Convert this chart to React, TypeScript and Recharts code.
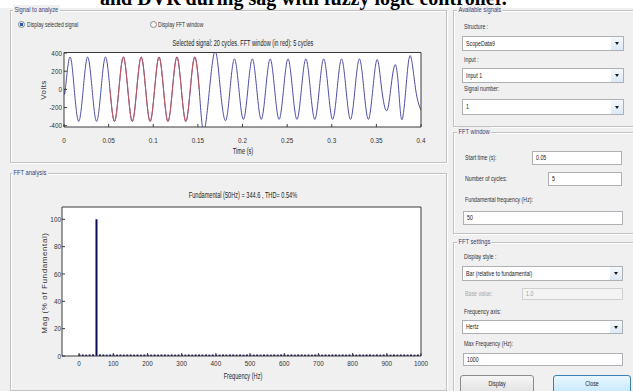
import React from 'react';
import { LineChart, Line, XAxis, YAxis, CartesianGrid, BarChart, Bar } from 'recharts';

const FONT = '"Liberation Sans", Arial, sans-serif';

// ---- Selected signal (time in s, voltage in V), read at zero crossings and peaks ----
const timeS = [
  0, 0.0015, 0.0065, 0.0115, 0.0165, 0.0215, 0.0265, 0.0315, 0.0365, 0.0415, 0.0465,
  0.0515, 0.0565, 0.0615, 0.0665, 0.0715, 0.0765, 0.0815, 0.0865, 0.0915, 0.0965,
  0.1015, 0.1065, 0.1115, 0.1165, 0.1215, 0.1265, 0.1315, 0.1365, 0.1415, 0.1465, 0.1515,
  0.1565, 0.163, 0.1695, 0.1752, 0.181, 0.186, 0.191, 0.196, 0.201, 0.206, 0.211, 0.216,
  0.221, 0.226, 0.231, 0.236, 0.241, 0.246, 0.251, 0.256, 0.261, 0.266, 0.271, 0.276,
  0.281, 0.286, 0.291, 0.296, 0.301, 0.306, 0.311, 0.316, 0.321, 0.326, 0.331, 0.336,
  0.341, 0.346, 0.351, 0.356, 0.3615, 0.366, 0.371, 0.375, 0.3785, 0.383, 0.388, 0.394, 0.4,
];
const volts = [
  0, 0, 356, 0, -352, 0, 356, 0, -352, 0, 356,
  0, -352, 0, 356, 0, -352, 0, 356, 0, -352,
  0, 356, 0, -352, 0, 356, 0, -352, 0, 356, 0,
  -460, 0, 420, 0, -345, 0, 335, 0, -330, 0, 335, 0,
  -330, 0, 335, 0, -330, 0, 335, 0, -330, 0, 335, 0,
  -330, 0, 335, 0, -330, 0, 335, 0, -330, 0, 335, 0,
  -330, 0, 328, 0, -236, 0, 272, 0, -333, 0, 371, 0, -230,
];
const fftWindowStart = 0.05;
const fftWindowEnd = 0.152;
const timeTicks = [0, 0.05, 0.1, 0.15, 0.2, 0.25, 0.3, 0.35, 0.4];
const voltTicks = [-400, -200, 0, 200, 400];

// ---- FFT spectrum (Hz, % of fundamental) ----
const freqHz = [
  0, 10, 20, 30, 40, 50, 60, 70, 80, 90, 100, 110, 120, 130, 140, 150, 160, 170, 180, 190,
  200, 210, 220, 230, 240, 250, 260, 270, 280, 290, 300, 310, 320, 330, 340, 350, 360, 370, 380, 390,
  400, 410, 420, 430, 440, 450, 460, 470, 480, 490, 500, 510, 520, 530, 540, 550, 560, 570, 580, 590,
  600, 610, 620, 630, 640, 650, 660, 670, 680, 690, 700, 710, 720, 730, 740, 750, 760, 770, 780, 790,
  800, 810, 820, 830, 840, 850, 860, 870, 880, 890, 900, 910, 920, 930, 940, 950, 960, 970, 980, 990, 1000,
];
const magPct = [
  1.2, 1.1, 1.0, 1.1, 1.2, 100, 1.2, 1.1, 1.0, 1.1, 1.1, 1.0, 1.1, 1.0, 1.1, 1.1, 1.0, 1.1, 1.0, 1.1,
  1.1, 1.0, 1.1, 1.0, 1.1, 1.1, 1.0, 1.1, 1.0, 1.1, 1.1, 1.0, 1.1, 1.0, 1.1, 1.1, 1.0, 1.1, 1.0, 1.1,
  1.1, 1.0, 1.1, 1.0, 1.1, 1.1, 1.0, 1.1, 1.0, 1.1, 1.1, 1.0, 1.1, 1.0, 1.1, 1.1, 1.0, 1.1, 1.0, 1.1,
  1.1, 1.0, 1.1, 1.0, 1.1, 1.1, 1.0, 1.1, 1.0, 1.1, 1.1, 1.0, 1.1, 1.0, 1.1, 1.1, 1.0, 1.1, 1.0, 1.1,
  1.1, 1.0, 1.1, 1.0, 1.1, 1.1, 1.0, 1.1, 1.0, 1.1, 1.1, 1.0, 1.1, 1.0, 1.1, 1.1, 1.0, 1.1, 1.0, 1.1, 1.1,
];
const freqTicks = [0, 100, 200, 300, 400, 500, 600, 700, 800, 900, 1000];
const magTicks = [0, 20, 40, 60, 80, 100];

const signalData = timeS.map((t, i) => ({ t, v: volts[i] }));
const windowData = signalData.filter((d) => d.t >= fftWindowStart && d.t <= fftWindowEnd);
const fftData = freqHz.map((f, i) => ({ f, m: magPct[i] }));

const AXIS = '#3a3a3a';

const makeTick = (side: 'bottom' | 'left') => (p: any) => {
  const label = String(p.payload.value);
  return (
    <text
      x={0}
      y={0}
      transform={`translate(${p.x},${p.y}) scale(0.85,1)`}
      textAnchor={side === 'bottom' ? 'middle' : 'end'}
      dominantBaseline="central"
      fontSize={7.5}
      fill="#333"
      fontFamily={FONT}
    >
      {label}
    </text>
  );
};

const GuiText = ({ x, y, text, size = 7.5, sx = 0.7, color = '#333', align = 'left', bg, pad = 0 }: any) => {
  const lh = Math.round(size * 1.3);
  const style: React.CSSProperties = {
    position: 'absolute',
    left: x,
    top: y - lh / 2,
    fontSize: size,
    lineHeight: lh + 'px',
    color,
    whiteSpace: 'nowrap',
    fontFamily: FONT,
    transformOrigin: align === 'left' ? 'left center' : 'center center',
    transform: align === 'left' ? `scaleX(${sx})` : `translateX(-50%) scaleX(${sx})`,
    background: bg,
    padding: pad ? `0 ${pad}px` : undefined,
  };
  return <div style={style}>{text}</div>;
};

const Frame = ({ x, y, w, h, label, lx }: any) => (
  <>
    <div
      style={{
        position: 'absolute', left: x, top: y, width: w, height: h, boxSizing: 'border-box',
        border: '1px solid #c2c2c2', boxShadow: 'inset 1px 1px 0 #ffffff, 1px 1px 0 #ffffff',
      }}
    />
    <GuiText x={lx} y={y} text={label} color="#34427a" bg="#f0f0f0" pad={2} sx={0.72} size={8} />
  </>
);

const Dropdown = ({ x, y, w, h, text }: any) => (
  <div style={{ position: 'absolute', left: x, top: y, width: w, height: h, boxSizing: 'border-box', border: '1px solid #aeb0b5', background: '#fff' }}>
    <GuiText x={3} y={h / 2 - 1} text={text} color="#222" />
    <div style={{ position: 'absolute', right: 0, top: 0, width: 12, height: h - 2, background: 'linear-gradient(#f4f8fc,#dce9f5)' }}>
      <div style={{ position: 'absolute', left: 3.5, top: (h - 2) / 2 - 1.5, width: 0, height: 0, borderLeft: '2.5px solid transparent', borderRight: '2.5px solid transparent', borderTop: '3.5px solid #1a1a1a' }} />
    </div>
  </div>
);

const InputBox = ({ x, y, w, h, text, disabled }: any) => (
  <div style={{ position: 'absolute', left: x, top: y, width: w, height: h, boxSizing: 'border-box', border: `1px solid ${disabled ? '#cfcfcf' : '#aeb0b5'}`, background: disabled ? '#f4f4f4' : '#fff' }}>
    <GuiText x={3} y={h / 2 - 1} text={text} color={disabled ? '#a0a0a0' : '#222'} />
  </div>
);

const Radio = ({ x, y, on }: any) => (
  <div style={{ position: 'absolute', left: x - 3.5, top: y - 3.5, width: 7, height: 7, borderRadius: '50%', boxSizing: 'border-box', border: '1px solid #8a8a8a', background: on ? 'radial-gradient(circle, #2a5db0 0 1.6px, #dfe8f3 2px)' : 'linear-gradient(#f0f0f0,#ffffff)' }} />
);

export default function App() {
  return (
    <div style={{ position: 'absolute', left: 0, top: 0, width: 633, height: 391, overflow: 'hidden', background: '#f0f0f0', fontFamily: FONT }}>
      {/* page caption above the screenshot (clipped) */}
      <div style={{ position: 'absolute', left: 0, top: 0, width: 633, height: 8, background: '#ffffff' }} />
      <div style={{ position: 'absolute', left: 100, top: -12, fontFamily: '"Liberation Serif", "Times New Roman", serif', fontWeight: 700, fontSize: 20, lineHeight: '20px', color: '#000', whiteSpace: 'nowrap' }}>
        and DVR during sag with fuzzy logic controller.
      </div>

      {/* left frames */}
      <Frame x={10} y={10} w={437} h={153} label="Signal to analyze" lx={13} />
      <Frame x={10} y={173} w={437} h={218} label="FFT analysis" lx={12} />

      <Radio x={21.5} y={24} on />
      <GuiText x={27} y={24} text="Display selected signal" size={7} sx={0.72} />
      <Radio x={153} y={24} />
      <GuiText x={158} y={24} text="Display FFT window" size={7} sx={0.72} />

      <GuiText x={242.5} y={43} text="Selected signal: 20 cycles. FFT window (in red): 5 cycles" size={8.5} sx={0.66} align="center" color="#222" />
      <GuiText x={242.5} y={151.5} text="Time (s)" size={8.5} sx={0.66} align="center" color="#222" />
      <div style={{ position: 'absolute', left: 42.5, top: 90, transform: 'translate(-50%,-50%) rotate(-90deg)', fontSize: 8, color: '#333', fontFamily: FONT, letterSpacing: 0.4, whiteSpace: 'nowrap' }}>Volts</div>

      <GuiText x={242.5} y={195} text="Fundamental (50Hz) = 344.6 , THD= 0.54%" size={8.5} sx={0.66} align="center" color="#222" />
      <GuiText x={242.5} y={376} text="Frequency (Hz)" size={8.5} sx={0.66} align="center" color="#222" />
      <div style={{ position: 'absolute', left: 43.5, top: 283, transform: 'translate(-50%,-50%) rotate(-90deg)', fontSize: 8, color: '#333', fontFamily: FONT, letterSpacing: 0.6, whiteSpace: 'nowrap' }}>Mag (% of Fundamental)</div>

      {/* time-domain signal */}
      <div style={{ position: 'absolute', left: 0, top: 0 }}>
        <LineChart width={446} height={160} margin={{ top: 51.5, right: 24, bottom: 0, left: 0 }}>
          <CartesianGrid fill="#ffffff" horizontal={false} vertical={false} stroke="none" />
          <XAxis dataKey="t" type="number" domain={[0, 0.4]} ticks={timeTicks} allowDataOverflow height={33}
            stroke={AXIS} tickSize={-3} tickMargin={16} tick={makeTick('bottom')} interval={0} />
          <XAxis xAxisId="top" dataKey="t" orientation="top" type="number" domain={[0, 0.4]} ticks={timeTicks} allowDataOverflow height={1}
            stroke={AXIS} tickSize={-3} tick={false} interval={0} />
          <YAxis type="number" domain={[-414, 406]} ticks={voltTicks} allowDataOverflow width={64}
            stroke={AXIS} tickSize={-3} tickMargin={5} tick={makeTick('left')} interval={0} />
          <YAxis yAxisId="right" orientation="right" type="number" domain={[-414, 406]} ticks={voltTicks} allowDataOverflow width={1}
            stroke={AXIS} tickSize={-3} tick={false} interval={0} />
          <Line data={signalData} dataKey="v" type="natural" stroke="#4c4ca6" strokeWidth={1} dot={false} isAnimationActive={false} />
          <Line data={windowData} dataKey="v" type="natural" stroke="#c85555" strokeWidth={1} dot={false} isAnimationActive={false} />
        </LineChart>
      </div>

      {/* FFT spectrum */}
      <div style={{ position: 'absolute', left: 0, top: 170 }}>
        <BarChart width={446} height={221} data={fftData} margin={{ top: 36, right: 24, bottom: 0, left: 0 }}>
          <CartesianGrid fill="#ffffff" horizontal={false} vertical={false} stroke="none" />
          <XAxis dataKey="f" type="number" domain={[-50, 1000]} ticks={freqTicks} allowDataOverflow height={35}
            stroke={AXIS} tickSize={-3} tickMargin={10} tick={makeTick('bottom')} interval={0} />
          <XAxis xAxisId="top" dataKey="f" orientation="top" type="number" domain={[-50, 1000]} ticks={freqTicks} allowDataOverflow height={1}
            stroke={AXIS} tickSize={-3} tick={false} interval={0} />
          <YAxis type="number" domain={[0, 109]} ticks={magTicks} allowDataOverflow width={62}
            stroke={AXIS} tickSize={-3} tickMargin={4} tick={makeTick('left')} interval={0} />
          <YAxis yAxisId="right" orientation="right" type="number" domain={[0, 109]} ticks={magTicks} allowDataOverflow width={1}
            stroke={AXIS} tickSize={-3} tick={false} interval={0} />
          <Bar dataKey="m" fill="#0b0b5c" barSize={2} isAnimationActive={false} />
        </BarChart>
      </div>

      {/* right panel */}
      <Frame x={453} y={10} w={190} h={117} label="Available signals" lx={457} />
      <GuiText x={464} y={26.5} text="Structure :" />
      <Dropdown x={462} y={36} w={162} h={15} text="ScopeData9" />
      <GuiText x={464} y={60} text="Input :" />
      <Dropdown x={462} y={68} w={162} h={15} text="Input 1" />
      <GuiText x={464} y={89} text="Signal number:" />
      <Dropdown x={462} y={99} w={162} h={16} text="1" />

      <Frame x={453} y={132} w={190} h={102} label="FFT window" lx={457} />
      <GuiText x={465} y={158} text="Start time (s):" />
      <InputBox x={532} y={151} w={90} h={14} text="0.05" />
      <GuiText x={465} y={178.5} text="Number of cycles:" />
      <InputBox x={548} y={172} w={74} h={14} text="5" />
      <GuiText x={465} y={200} text="Fundamental frequency (Hz):" />
      <InputBox x={463} y={211} w={160} h={14} text="50" />

      <Frame x={453} y={242} w={190} h={160} label="FFT settings" lx={457} />
      <GuiText x={464} y={257} text="Display style :" />
      <Dropdown x={462} y={266} w={161} h={15} text="Bar (relative to fundamental)" />
      <GuiText x={465} y={294} text="Base value:" color="#a8a8a8" />
      <InputBox x={522} y={288} w={101} h={12} text="1.0" disabled />
      <GuiText x={464} y={312} text="Frequency axis:" />
      <Dropdown x={462} y={320} w={161} h={14} text="Hertz" />
      <GuiText x={464} y={343.5} text="Max Frequency (Hz):" />
      <InputBox x={463} y={353} w={160} h={13} text="1000" />

      <div style={{ position: 'absolute', left: 460, top: 375, width: 74, height: 22, boxSizing: 'border-box', border: '1px solid #8c8c8c', borderRadius: 3, background: 'linear-gradient(#f6f6f6,#dedede)' }} />
      <GuiText x={497} y={383.5} text="Display" align="center" color="#222" />
      <div style={{ position: 'absolute', left: 553, top: 375, width: 78, height: 22, boxSizing: 'border-box', border: '1px solid #3c7fb1', borderRadius: 3, background: 'linear-gradient(#eaf6fd,#bee6fd)' }} />
      <GuiText x={592} y={383.5} text="Close" align="center" color="#222" />
    </div>
  );
}
